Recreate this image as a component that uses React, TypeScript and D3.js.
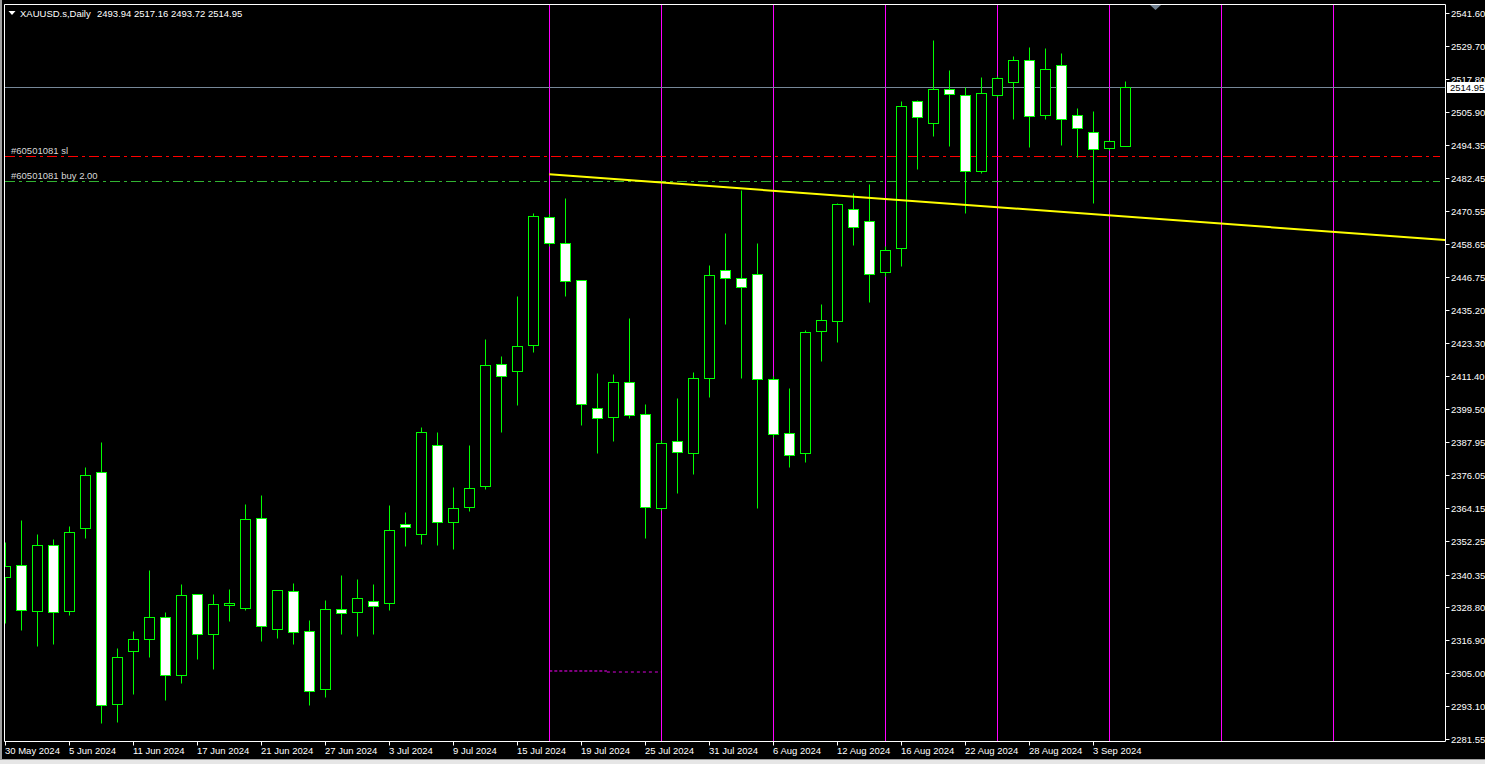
import React from "react";
import * as d3 from "d3";

// ---- data ----
const dates = [
  "30 May 2024","31 May 2024","3 Jun 2024","4 Jun 2024","5 Jun 2024","6 Jun 2024","7 Jun 2024","10 Jun 2024","11 Jun 2024","12 Jun 2024",
  "13 Jun 2024","14 Jun 2024","17 Jun 2024","18 Jun 2024","19 Jun 2024","20 Jun 2024","21 Jun 2024","24 Jun 2024","25 Jun 2024","26 Jun 2024",
  "27 Jun 2024","28 Jun 2024","1 Jul 2024","2 Jul 2024","3 Jul 2024","4 Jul 2024","5 Jul 2024","8 Jul 2024","9 Jul 2024","10 Jul 2024",
  "11 Jul 2024","12 Jul 2024","15 Jul 2024","16 Jul 2024","17 Jul 2024","18 Jul 2024","19 Jul 2024","22 Jul 2024","23 Jul 2024","24 Jul 2024",
  "25 Jul 2024","26 Jul 2024","29 Jul 2024","30 Jul 2024","31 Jul 2024","1 Aug 2024","2 Aug 2024","5 Aug 2024","6 Aug 2024","7 Aug 2024",
  "8 Aug 2024","9 Aug 2024","12 Aug 2024","13 Aug 2024","14 Aug 2024","15 Aug 2024","16 Aug 2024","19 Aug 2024","20 Aug 2024","21 Aug 2024",
  "22 Aug 2024","23 Aug 2024","26 Aug 2024","27 Aug 2024","28 Aug 2024","29 Aug 2024","30 Aug 2024","2 Sep 2024","3 Sep 2024","4 Sep 2024",
  "5 Sep 2024",
];
const opens = [
  2339.36,2343.66,2327.18,2350.82,2327.40,2356.91,2376.97,2293.87,2312.85,2317.15,
  2325.03,2304.26,2333.27,2319.16,2329.33,2328.47,2360.49,2320.95,2334.35,2320.02,
  2299.24,2327.90,2326.82,2330.76,2330.16,2358.35,2354.76,2386.64,2359.06,2364.44,
  2371.96,2415.66,2413.15,2422.46,2468.31,2459.00,2445.75,2399.90,2396.67,2409.21,
  2397.75,2364.08,2388.08,2383.78,2410.64,2449.33,2446.46,2447.90,2410.28,2390.94,
  2383.78,2427.48,2431.06,2471.18,2466.88,2448.61,2457.21,2509.86,2501.98,2514.16,
  2512.01,2484.79,2512.01,2516.67,2524.55,2504.85,2522.76,2504.85,2498.76,2493.03,
  2493.94,
];
const highs = [
  2351.90,2359.89,2354.87,2353.08,2357.63,2378.87,2387.83,2314.04,2320.13,2341.98,
  2326.93,2336.96,2333.40,2333.38,2335.17,2365.62,2368.84,2334.90,2337.32,2324.07,
  2331.23,2340.18,2338.75,2336.96,2365.26,2362.75,2393.20,2391.41,2371.71,2386.75,
  2424.72,2418.63,2440.12,2469.85,2469.50,2475.23,2446.00,2412.54,2412.18,2432.24,
  2401.44,2388.54,2403.59,2412.90,2451.23,2462.69,2478.09,2459.11,2411.50,2407.17,
  2427.94,2437.26,2473.44,2477.02,2480.13,2458.03,2509.97,2510.22,2531.82,2521.08,
  2515.09,2518.57,2518.93,2526.09,2529.31,2528.96,2527.17,2507.36,2506.28,2496.00,
  2517.16,
];
const lows = [
  2322.88,2320.48,2314.86,2315.58,2325.86,2353.55,2287.06,2287.64,2297.67,2310.92,
  2295.52,2301.61,2310.10,2306.51,2323.71,2327.75,2316.54,2317.62,2315.58,2293.73,
  2296.59,2319.16,2318.44,2319.16,2327.65,2350.68,2351.40,2351.04,2349.61,2363.22,
  2371.10,2391.51,2401.19,2420.17,2458.00,2440.23,2393.91,2383.99,2388.29,2396.53,
  2353.44,2363.47,2369.66,2376.47,2404.05,2430.20,2410.86,2364.29,2389.60,2378.98,
  2380.77,2416.95,2423.75,2458.50,2438.08,2447.29,2450.98,2485.72,2497.54,2493.96,
  2469.85,2484.29,2511.40,2503.63,2493.60,2503.63,2494.32,2490.02,2473.54,2492.50,
  2493.72,
];
const closes = [
  2343.30,2327.54,2350.82,2326.82,2355.48,2375.90,2293.51,2310.70,2317.15,2325.03,
  2304.26,2332.91,2319.16,2329.69,2330.05,2360.14,2322.02,2334.70,2319.66,2298.53,
  2327.90,2326.68,2331.84,2329.19,2356.30,2357.49,2391.30,2359.06,2364.08,2371.24,
  2415.30,2411.36,2422.11,2468.67,2459.00,2445.39,2401.33,2396.31,2409.21,2397.39,
  2364.44,2387.36,2384.14,2410.64,2447.54,2446.46,2443.24,2410.28,2390.58,2383.06,
  2427.12,2431.42,2472.97,2464.73,2447.90,2456.49,2508.07,2504.13,2514.16,2512.37,
  2484.79,2512.73,2518.10,2524.55,2504.49,2521.33,2503.42,2500.19,2492.67,2495.54,
  2514.95,
];
const yTickLabels = [
  "2541.60","2529.70","2517.80","2505.90","2494.35","2482.45","2470.55","2458.65","2446.75","2435.20",
  "2423.30","2411.40","2399.50","2387.95","2376.05","2364.15","2352.25","2340.35","2328.80","2316.90",
  "2305.00","2293.10","2281.55",
];
const xLabelEvery = 4;
const separatorBars = [34, 41, 48, 55, 62, 69, 76, 83];
const trendBars = [34, 68];
const trendPrices = [2483.72, 2469.43];
const slPrice = 2490.27;
const buyPrice = 2481.32;
const slLabel = "#60501081 sl";
const buyLabel = "#60501081 buy 2.00";
const magentaBars = [34, 37.6, 41];
const magentaPrices = [2305.8, 2305.44];
const symbolTitle = "XAUUSD.s,Daily";
const lastPrice = 2514.95;

// ---- layout ----
const W = 1485, H = 764;
const L = 4.5, T = 4.5, R = 1445.5, B = 741.5;
const FONT = "'Liberation Sans', Arial, sans-serif";
const FS = 9.5;

export default function App() {
  const x = d3.scaleLinear().domain([0, 90]).range([5.3, 1445.3]);
  const y = d3.scaleLinear().domain([2281.55, 2541.6]).range([738.7, 12.7]);
  const cx = (i: number) => Math.floor(x(i)) + 0.5;
  const py = (v: number) => Math.round(y(v)) + 0.5;

  const slope = (trendPrices[1] - trendPrices[0]) / (trendBars[1] - trendBars[0]);
  const trendEndBar = x.invert(R);
  const trendEndPrice = trendPrices[0] + slope * (trendEndBar - trendBars[0]);
  const trendLine = d3.line<[number, number]>().x(d => x(d[0])).y(d => y(d[1]));

  const last = closes[closes.length - 1];
  const header = [opens, highs, lows, closes].map(a => a[a.length - 1].toFixed(2)).join(" ");

  return (
    <svg width={W} height={H} style={{ position: "absolute", left: 0, top: 0, background: "#000" }}>
      <defs>
        <clipPath id="plot">
          <rect x={5} y={5} width={1440} height={736} />
        </clipPath>
      </defs>
      <rect x={0} y={0} width={W} height={H} fill="#000" />
      <rect x={0} y={0} width={2} height={H} fill="#a0a0a0" />
      <rect x={0} y={759} width={W} height={5} fill="#e6e6e6" />
      <line x1={0} x2={W} y1={759.5} y2={759.5} stroke="#a0a0a0" />

      <g clipPath="url(#plot)">
        {separatorBars.map(b => (
          <line key={b} x1={cx(b)} x2={cx(b)} y1={T} y2={B} stroke="#ff00ff" strokeWidth={1} />
        ))}
        {/* current price line */}
        <line x1={L} x2={R} y1={py(lastPrice)} y2={py(lastPrice)} stroke="#778899" />
        {/* order lines */}
        <line x1={5} x2={1440} y1={py(slPrice)} y2={py(slPrice)} stroke="#ff0000" strokeWidth={1} strokeDasharray="10,4,3,4" />
        <line x1={5} x2={1440} y1={py(buyPrice)} y2={py(buyPrice)} stroke="#32b432" strokeWidth={1} strokeDasharray="10,4,3,4" />
        {/* magenta dotted segments */}
        <line x1={x(magentaBars[0])} x2={x(magentaBars[1])} y1={y(magentaPrices[0])} y2={y(magentaPrices[0])} stroke="#ff00ff" strokeWidth={1} strokeDasharray="3,2" />
        <line x1={x(magentaBars[1])} x2={x(magentaBars[2])} y1={y(magentaPrices[1])} y2={y(magentaPrices[1])} stroke="#ff00ff" strokeWidth={1} strokeDasharray="3,3" opacity={0.85} />
        {/* candles */}
        {dates.map((d, i) => {
          const o = opens[i], c = closes[i], h = highs[i], l = lows[i];
          const bull = c >= o;
          const top = py(Math.max(o, c));
          const bot = py(Math.min(o, c));
          const xc = cx(i);
          return (
            <g key={d}>
              <line x1={xc} x2={xc} y1={py(h)} y2={py(l)} stroke="#00ff00" />
              <rect x={xc - 5} y={top} width={10} height={Math.max(bot - top, 1)} fill={bull ? "#000" : "#fff"} stroke="#00ff00" strokeWidth={1} />
            </g>
          );
        })}
        {/* trend line */}
        <path
          d={trendLine([[trendBars[0], trendPrices[0]], [trendEndBar, trendEndPrice]]) || ""}
          stroke="#ffff00" strokeWidth={2} fill="none"
        />
      </g>

      {/* order labels */}
      <text x={11} y={153.5} fill="#d8d8d8" fontFamily={FONT} fontSize={FS}>{slLabel}</text>
      <text x={11} y={178.5} fill="#d8d8d8" fontFamily={FONT} fontSize={FS}>{buyLabel}</text>

      {/* frame */}
      <line x1={L} x2={L} y1={T} y2={B} stroke="#fff" />
      <line x1={L} x2={R} y1={T} y2={T} stroke="#fff" />
      <line x1={R} x2={R} y1={T} y2={B} stroke="#fff" />
      <line x1={L} x2={R} y1={B} y2={B} stroke="#fff" />

      {/* chart shift marker */}
      <path d="M1150,5 L1161,5 L1155.5,10 Z" fill="#708090" />

      {/* header */}
      <path d="M8.5,11 L15.5,11 L12,15 Z" fill="#fff" />
      <text x={20} y={16.5} fill="#fff" fontFamily={FONT} fontSize={FS}>{symbolTitle}</text>
      <text x={97} y={16.5} fill="#fff" fontFamily={FONT} fontSize={FS}>{header}</text>

      {/* y axis */}
      {yTickLabels.map(t => {
        const yy = Math.round(y(+t)) + 0.5;
        return (
          <g key={t}>
            <line x1={R} x2={R + 4} y1={yy} y2={yy} stroke="#fff" />
            <text x={1451} y={yy + 3.5} fill="#fff" fontFamily={FONT} fontSize={FS}>{t}</text>
          </g>
        );
      })}
      {/* last price box */}
      <rect x={1447} y={py(last) - 5.5} width={38} height={11} fill="#fff" />
      <text x={1450} y={py(last) + 3.5} fill="#000" fontFamily={FONT} fontSize={FS}>{last.toFixed(2)}</text>

      {/* x axis */}
      {dates.map((d, i) => i % xLabelEvery === 0 ? (
        <g key={"x" + d}>
          <line x1={cx(i)} x2={cx(i)} y1={B} y2={B + 4} stroke="#fff" />
          <text x={cx(i) - 0.5} y={754} fill="#fff" fontFamily={FONT} fontSize={FS}>{d}</text>
        </g>
      ) : null)}
    </svg>
  );
}
